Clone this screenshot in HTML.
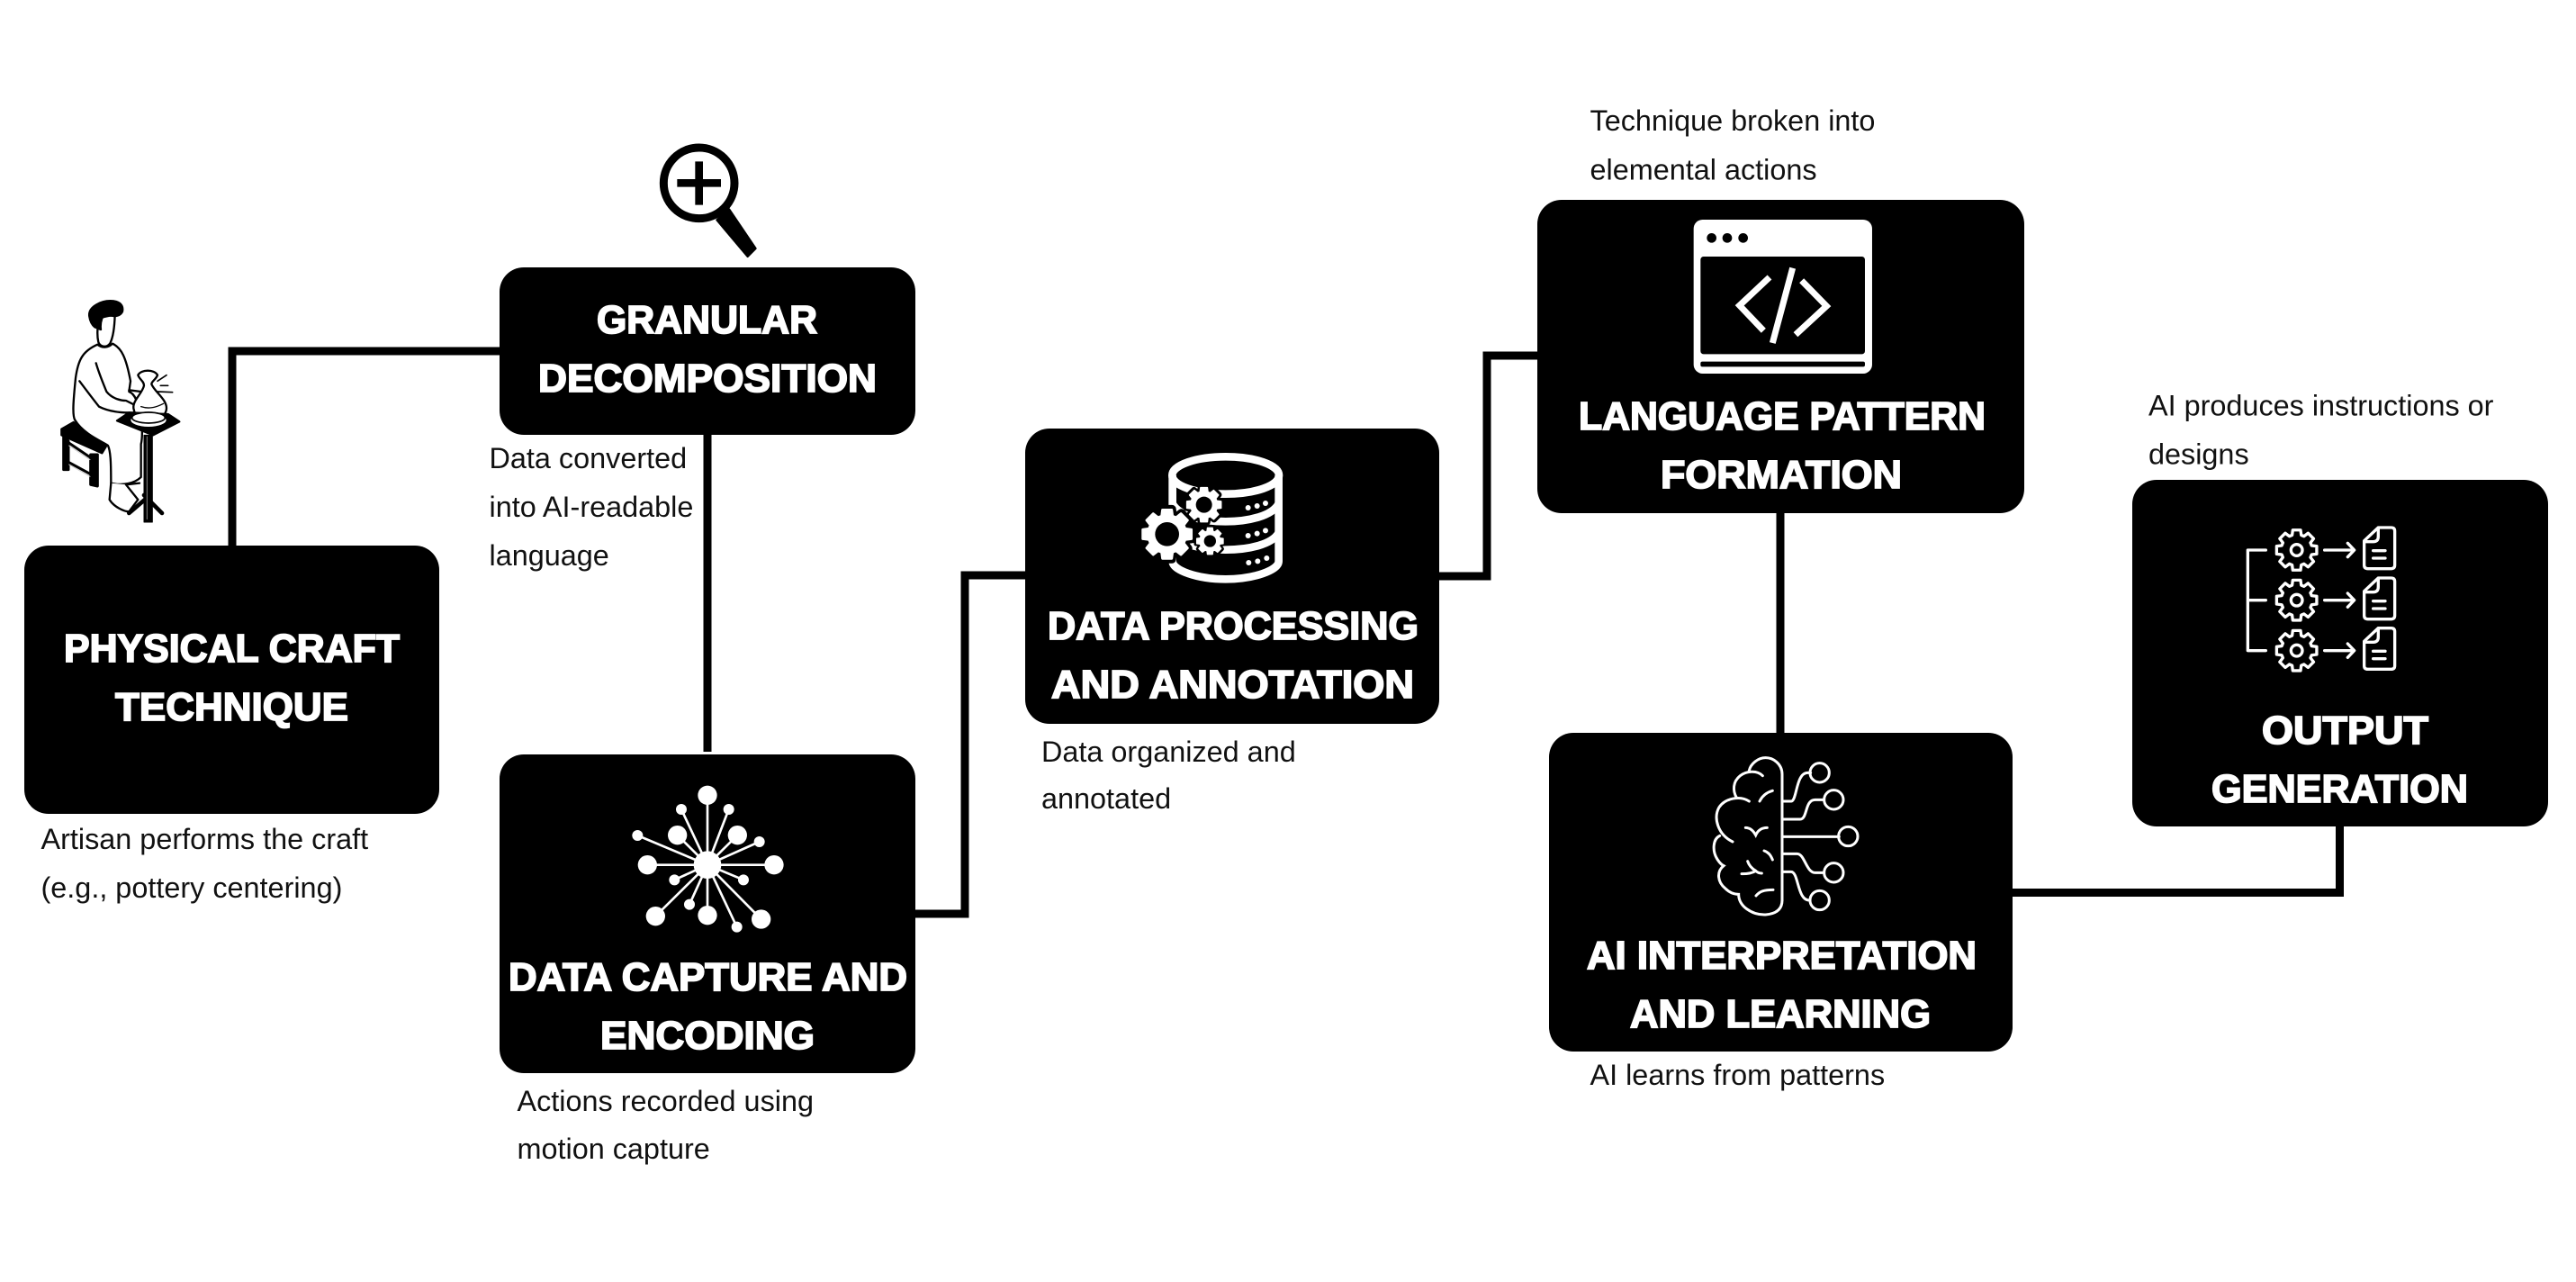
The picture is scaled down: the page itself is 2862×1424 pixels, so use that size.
<!DOCTYPE html>
<html><head><meta charset="utf-8"><style>
html,body{margin:0;padding:0;background:#fff}
svg{display:block}
.h{font:bold 44px "Liberation Sans",sans-serif;fill:#fff;stroke:#fff;stroke-width:1.8px}
.d{font:32.4px "Liberation Sans",sans-serif;fill:#111}
</style></head><body>
<svg width="2862" height="1424" viewBox="0 0 2862 1424" xmlns="http://www.w3.org/2000/svg">
<defs>
<polygon id="gear" points="49.7,-15.2 66.8,-13 66.8,13 49.7,15.2 45.9,24.4 56.4,38 38,56.4 24.4,45.9 15.2,49.7 13,66.8 -13,66.8 -15.2,49.7 -24.4,45.9 -38,56.4 -56.4,38 -45.9,24.4 -49.7,15.2 -66.8,13 -66.8,-13 -49.7,-15.2 -45.9,-24.4 -56.4,-38 -38,-56.4 -24.4,-45.9 -15.2,-49.7 -13,-66.8 13,-66.8 15.2,-49.7 24.4,-45.9 38,-56.4 56.4,-38 45.9,-24.4"/>
</defs>
<rect width="2862" height="1424" fill="#fff"/>

<!-- connectors -->
<g fill="none" stroke="#000" stroke-width="9">
<path d="M258 606V390H556"/>
<path d="M786 483V835"/>
<path d="M1017 1015H1072V639H1139"/>
<path d="M1599 640H1652V395H1708"/>
<path d="M1978 569V814"/>
<path d="M2236 991.5H2599.5V917"/>
</g>

<!-- boxes -->
<g fill="#000">
<rect x="27" y="606" width="461" height="298" rx="27"/>
<rect x="555" y="297" width="462" height="186" rx="27"/>
<rect x="555" y="838" width="462" height="354" rx="27"/>
<rect x="1139" y="476" width="460" height="328" rx="27"/>
<rect x="1708" y="222" width="541" height="348" rx="27"/>
<rect x="1721" y="814" width="515" height="354" rx="27"/>
<rect x="2369" y="533" width="462" height="385" rx="27"/>
</g>

<!-- headings -->
<g>
<text class="h" x="71" y="735" textLength="373" lengthAdjust="spacingAndGlyphs">PHYSICAL CRAFT</text>
<text class="h" x="128" y="800" textLength="259" lengthAdjust="spacingAndGlyphs">TECHNIQUE</text>
<text class="h" x="663" y="370" textLength="245" lengthAdjust="spacingAndGlyphs">GRANULAR</text>
<text class="h" x="598" y="435" textLength="376" lengthAdjust="spacingAndGlyphs">DECOMPOSITION</text>
<text class="h" x="565" y="1100" textLength="443" lengthAdjust="spacingAndGlyphs">DATA CAPTURE AND</text>
<text class="h" x="667" y="1165" textLength="238" lengthAdjust="spacingAndGlyphs">ENCODING</text>
<text class="h" x="1164" y="710" textLength="412" lengthAdjust="spacingAndGlyphs">DATA PROCESSING</text>
<text class="h" x="1168" y="775" textLength="403" lengthAdjust="spacingAndGlyphs">AND ANNOTATION</text>
<text class="h" x="1754" y="477" textLength="452" lengthAdjust="spacingAndGlyphs">LANGUAGE PATTERN</text>
<text class="h" x="1845" y="542" textLength="268" lengthAdjust="spacingAndGlyphs">FORMATION</text>
<text class="h" x="1763" y="1076" textLength="433" lengthAdjust="spacingAndGlyphs">AI INTERPRETATION</text>
<text class="h" x="1811" y="1141" textLength="334" lengthAdjust="spacingAndGlyphs">AND LEARNING</text>
<text class="h" x="2513" y="826" textLength="185" lengthAdjust="spacingAndGlyphs">OUTPUT</text>
<text class="h" x="2457" y="891" textLength="285" lengthAdjust="spacingAndGlyphs">GENERATION</text>
</g>

<!-- descriptions -->
<text class="d" x="45.5" y="943">Artisan performs the craft</text>
<text class="d" x="45.5" y="997">(e.g., pottery centering)</text>
<text class="d" x="543.5" y="520">Data converted</text>
<text class="d" x="543.5" y="574">into AI-readable</text>
<text class="d" x="543.5" y="628">language</text>
<text class="d" x="574.5" y="1234">Actions recorded using</text>
<text class="d" x="574.5" y="1287">motion capture</text>
<text class="d" x="1157" y="846">Data organized and</text>
<text class="d" x="1157" y="898">annotated</text>
<text class="d" x="1766.5" y="145">Technique broken into</text>
<text class="d" x="1766.5" y="199.5">elemental actions</text>
<text class="d" x="1766.5" y="1205">AI learns from patterns</text>
<text class="d" x="2387" y="461.5">AI produces instructions or</text>
<text class="d" x="2387" y="515.5">designs</text>

<!-- magnifier -->
<g transform="translate(720 150) scale(.3333)" fill="none" stroke="#000">
<circle cx="170" cy="160" r="118" stroke-width="27"/>
<path d="M97 160H243M170 88V233" stroke-width="26"/>
<path d="M230 283L270 248L358 378L332 404Z" fill="#000" stroke-width="8" stroke-linejoin="round"/>
</g>

<!-- potter -->
<g transform="translate(60 320) scale(.3333)" fill="#fff" stroke="#000" stroke-width="7" stroke-linejoin="round" stroke-linecap="round">
<!-- stool -->
<path d="M25 470L65 447L175 525L160 550L25 490Z" fill="#000"/>
<path d="M32 490V605L48 605V510ZM122 555V655L145 660V555ZM48 515L122 565M48 580L122 620" fill="#000" stroke-width="9"/>
<path d="M50 525L120 572M50 588L120 628" fill="none" stroke="#ccc" stroke-width="3"/>
<!-- table legs -->
<path d="M300 690L360 750M320 690L250 750" stroke-width="14"/>
<!-- legs/robe -->
<path d="M190 650C190 600 190 545 180 525C170 515 100 490 70 440C60 425 65 370 72 300C80 240 95 210 145 188C160 200 180 200 195 185C225 200 240 230 255 310L250 345C290 360 300 480 290 520L290 630C270 650 230 660 190 650Z"/>
<path d="M190 650L185 705C200 730 235 745 250 745L280 705L240 655M240 655L285 650" />
<path d="M140 250C150 285 165 320 175 345C195 370 225 375 240 375L280 395C285 410 270 418 250 415C220 415 180 410 150 395C130 370 100 330 85 310"/>
<path d="M250 340L290 345"/>
<!-- head -->
<path d="M148 100C146 130 142 155 148 180C155 198 178 200 188 182C198 160 202 125 203 88Z"/>
<path d="M118 95C112 62 160 40 195 43C220 45 232 58 228 78C222 92 205 95 190 92C178 90 168 92 160 100C156 112 154 125 156 138L136 130C124 120 120 108 118 95Z" fill="#000"/>
<!-- pot -->
<path d="M280 290C290 270 335 270 345 290C340 305 325 310 325 320C335 345 375 370 375 400C375 420 355 440 320 445C290 448 270 430 265 400C262 375 295 350 300 325C300 310 285 305 280 290Z"/>
<path d="M290 395C320 405 345 395 365 385" fill="none" stroke-width="4"/>
<path d="M345 310L375 290M355 325L380 325M345 345L395 347" fill="none" stroke-width="5"/>
<!-- table -->
<path d="M210 442L250 415L380 420L418 445L330 490Z" fill="#000"/>
<ellipse cx="315" cy="440" rx="62" ry="25" fill="#fff" stroke-width="6"/>
<ellipse cx="315" cy="432" rx="55" ry="18" fill="#fff" stroke-width="5"/>
<path d="M300 490H328V780H300Z" fill="#000" stroke-width="3"/>
<path d="M310 495V770" stroke="#888" stroke-width="3"/>
</g>

<!-- network -->
<g transform="translate(680 860) scale(.3333)" fill="#fff" stroke="#fff" stroke-width="8">
<path d="M318 302L318 70M318 302L218 203M318 302L418 203M318 302L118 302M318 302L540 302M318 302L145 473M318 302L318 470M318 302L497 483M318 302L231 117M318 302L389 117M318 302L85 204M318 302L491 225M318 302L208 352M318 302L438 352M318 302L258 434M318 302L416 509"/>
<g stroke="none">
<circle cx="318" cy="302" r="46"/>
<circle cx="318" cy="70" r="32"/><circle cx="218" cy="203" r="32"/><circle cx="418" cy="203" r="32"/><circle cx="118" cy="302" r="32"/><circle cx="540" cy="302" r="32"/><circle cx="145" cy="473" r="32"/><circle cx="318" cy="470" r="32"/><circle cx="497" cy="483" r="32"/>
<circle cx="231" cy="117" r="18"/><circle cx="389" cy="117" r="18"/><circle cx="85" cy="204" r="18"/><circle cx="491" cy="225" r="18"/><circle cx="208" cy="352" r="18"/><circle cx="438" cy="352" r="18"/><circle cx="258" cy="434" r="18"/><circle cx="416" cy="509" r="18"/>
</g></g>

<!-- database -->
<g transform="translate(1240 490) scale(.3333)">
<g fill="none" stroke="#fff" stroke-width="26">
<ellipse cx="365" cy="114" rx="178" ry="62"/>
<path d="M188 114V400C188 430 270 460 365 460C460 460 542 430 542 400V114"/>
<path d="M188 208C210 250 290 268 365 268C440 268 520 250 542 208"/>
<path d="M188 305C210 345 290 362 365 362C440 362 520 345 542 305"/>
</g>
<g fill="#000" stroke="#000" stroke-width="22" stroke-linejoin="round">
<use href="#gear" transform="translate(170 310) scale(1.25)"/>
<use href="#gear" transform="translate(293 212) scale(.88)"/>
<use href="#gear" transform="translate(313 333) scale(.69)"/>
</g>
<g fill="#fff" stroke="#fff" stroke-width="6" stroke-linejoin="round">
<use href="#gear" transform="translate(170 310) scale(1.22)"/>
<use href="#gear" transform="translate(293 212) scale(.85)"/>
<use href="#gear" transform="translate(313 333) scale(.66)"/>
</g>
<g fill="#000">
<circle cx="170" cy="310" r="40"/><circle cx="293" cy="212" r="27"/><circle cx="313" cy="333" r="20"/>
</g>
<g fill="#fff">
<circle cx="440" cy="222" r="9"/><circle cx="470" cy="216" r="9"/><circle cx="498" cy="207" r="9"/>
<circle cx="440" cy="315" r="9"/><circle cx="470" cy="308" r="9"/><circle cx="498" cy="298" r="9"/>
<circle cx="442" cy="405" r="9"/><circle cx="472" cy="400" r="9"/><circle cx="502" cy="390" r="9"/>
</g></g>

<!-- code window -->
<g transform="translate(1860 230) scale(.3333)">
<rect x="65" y="42" width="595" height="513" rx="30" fill="#fff"/>
<rect x="88" y="165" width="548" height="325" rx="10" fill="#000"/>
<rect x="88" y="515" width="548" height="17" rx="6" fill="#000"/>
<circle cx="125" cy="103" r="16"/><circle cx="177" cy="103" r="16"/><circle cx="230" cy="103" r="16"/>
<g fill="none" stroke="#fff" stroke-width="21">
<path d="M318 234L218 328L298 412"/>
<path d="M395 203L328 453"/>
<path d="M425 245L508 330L405 425"/>
</g></g>

<!-- brain -->
<g transform="translate(1880 830) scale(.3333)" fill="none" stroke="#fff" stroke-width="9" stroke-linecap="round">
<path d="M300 510V90C300 55 270 35 245 35C220 35 195 55 190 78"/>
<path d="M235 95C215 75 180 80 160 95C135 115 135 145 148 168"/>
<path d="M190 180C160 160 110 170 90 200C70 235 85 290 135 315"/>
<path d="M92 295C70 305 65 345 85 375Q95 390 105 395C80 415 85 450 110 470C125 485 140 490 155 490C155 530 200 560 245 558C280 555 300 540 300 510"/>
<path d="M225 180C235 160 250 150 268 145M178 268C195 268 205 280 212 293C220 275 235 268 250 268M240 345C255 350 262 360 268 375M185 380C190 395 200 405 212 412M165 422C185 422 200 420 212 412C218 418 225 420 232 420M213 495C225 480 240 475 270 475"/>
<path d="M300 180H330C350 180 345 85 385 85H395M300 240H360C385 240 375 175 410 175H440M300 298H490M300 355H350C375 355 380 418 410 418H440M300 415H330C355 415 350 510 390 510"/>
<circle cx="425" cy="85" r="32"/><circle cx="472" cy="175" r="32"/><circle cx="520" cy="297" r="32"/><circle cx="472" cy="418" r="32"/><circle cx="425" cy="510" r="32"/>
</g>

<!-- output icon -->
<g transform="translate(2480 570) scale(.3333)" fill="none" stroke="#fff" stroke-width="10" stroke-linecap="round" stroke-linejoin="round">
<path d="M112 123H52V458H112M52 290H112"/>
<use href="#gear" transform="translate(215 123)"/><use href="#gear" transform="translate(215 290)"/><use href="#gear" transform="translate(215 458)"/>
<circle cx="215" cy="123" r="19"/><circle cx="215" cy="290" r="19"/><circle cx="215" cy="458" r="19"/>
<path d="M308 123H405M385 100L407 123L385 146"/>
<path d="M308 290H405M385 267L407 290L385 313"/>
<path d="M308 458H405M385 435L407 458L385 481"/>
<g id="doc"><path d="M487 48H530Q542 48 542 60V173Q542 185 530 185H452Q440 185 440 173V92ZM440 95H470Q487 95 487 78V48M470 125H510M470 150H510"/></g>
<use href="#doc" y="168"/><use href="#doc" y="335"/>
</g>
</svg>
</body></html>
